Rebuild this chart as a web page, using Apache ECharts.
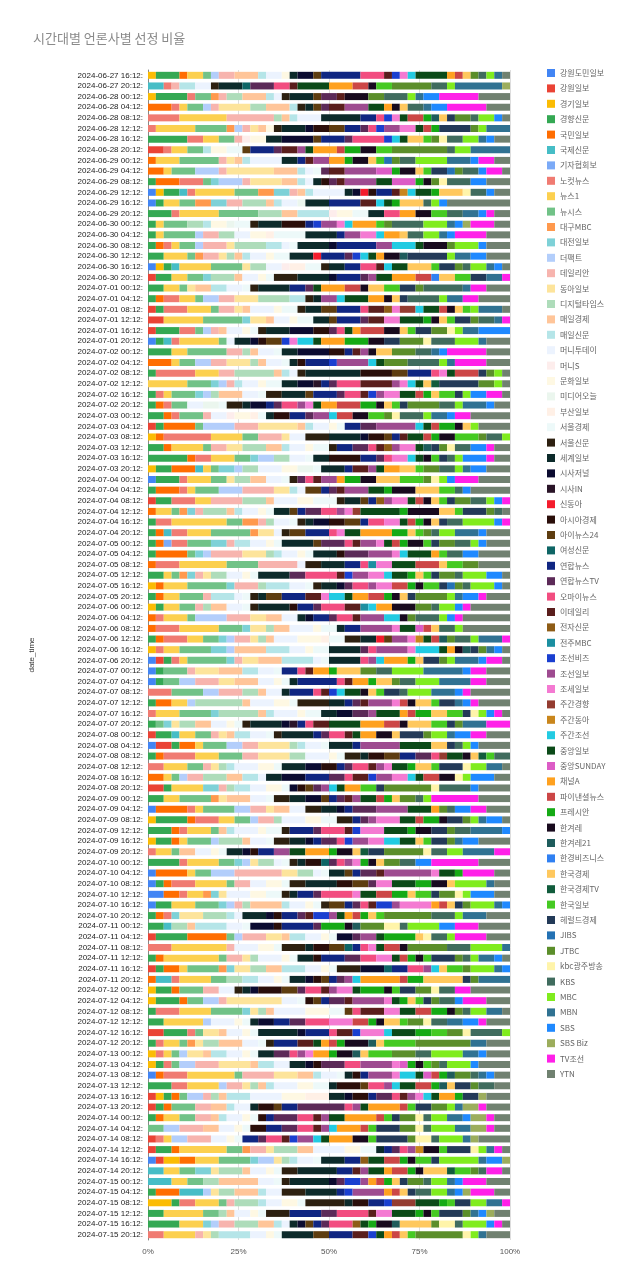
<!DOCTYPE html>
<html><head><meta charset="utf-8">
<script src="https://cdn.jsdelivr.net/npm/echarts@6/dist/echarts.min.js"></script>
<style>html,body{margin:0;padding:0;background:#fff}#c{width:640px;height:1287px}</style>
</head><body><div id="c"></div>
<script>
const outlets = ['강원도민일보','강원일보','경기일보','경향신문','국민일보','국제신문','기자협회보','노컷뉴스','뉴스1','뉴시스','대구MBC','대전일보','더팩트','데일리안','동아일보','디지털타임스','매일경제','매일신문','머니투데이','머니S','문화일보','미디어오늘','부산일보','서울경제','서울신문','세계일보','시사저널','시사IN','신동아','아시아경제','아이뉴스24','여성신문','연합뉴스','연합뉴스TV','오마이뉴스','이데일리','전자신문','전주MBC','조선비즈','조선일보','조세일보','주간경향','주간동아','주간조선','중앙일보','중앙SUNDAY','채널A','파이낸셜뉴스','프레시안','한겨레','한겨레21','한경비즈니스','한국경제','한국경제TV','한국일보','헤럴드경제','JIBS','JTBC','kbc광주방송','KBS','MBC','MBN','SBS','SBS Biz','TV조선','YTN'];
const colors = ['#4285F4','#EA4335','#FBBC04','#34A853','#FF6D01','#46BDC6','#7BAAF7','#F07B72','#FCD04F','#71C287','#FF994D','#7ED1D7','#B3CEFB','#F7B4AE','#FDE49B','#AEDCBA','#FFC599','#B5E5E8','#ECF3FE','#FDEDEC','#FEF8E3','#EBF6EE','#FFF0E6','#EDF9F9','#2D2010','#0C2A2A','#0B0B30','#2A1428','#F41C2C','#2A0E0A','#5E3D10','#0E6565','#102682','#5C2A58','#F24D80','#5A1E1C','#8E5C16','#1B8FA0','#1A3FD0','#9E4B90','#F47AD2','#943C30','#C9861C','#22CBE2','#0B4A18','#DC5CC6','#FFA11F','#CC4646','#15AA15','#180A1E','#1E5C5C','#3080F2','#FFC85E','#115C3C','#45CA22','#233A58','#2472B4','#5B8E2A','#FFF4AA','#406C5E','#80EC1E','#307292','#1F89FF','#9CAD5C','#FF20E8','#708170'];
const categories = [
'2024-06-27 16:12','2024-06-27 20:12',
'2024-06-28 00:12','2024-06-28 04:12','2024-06-28 08:12','2024-06-28 12:12','2024-06-28 16:12','2024-06-28 20:12',
'2024-06-29 00:12','2024-06-29 04:12','2024-06-29 08:12','2024-06-29 12:12','2024-06-29 16:12','2024-06-29 20:12',
'2024-06-30 00:12','2024-06-30 04:12','2024-06-30 08:12','2024-06-30 12:12','2024-06-30 16:12','2024-06-30 20:12',
'2024-07-01 00:12','2024-07-01 04:12','2024-07-01 08:12','2024-07-01 12:12','2024-07-01 16:12','2024-07-01 20:12',
'2024-07-02 00:12','2024-07-02 04:12','2024-07-02 08:12','2024-07-02 12:12','2024-07-02 16:12','2024-07-02 20:12',
'2024-07-03 00:12','2024-07-03 04:12','2024-07-03 08:12','2024-07-03 12:12','2024-07-03 16:12','2024-07-03 20:12',
'2024-07-04 00:12','2024-07-04 04:12','2024-07-04 08:12','2024-07-04 12:12','2024-07-04 16:12','2024-07-04 20:12',
'2024-07-05 00:12','2024-07-05 04:12','2024-07-05 08:12','2024-07-05 12:12','2024-07-05 16:12','2024-07-05 20:12',
'2024-07-06 00:12','2024-07-06 04:12','2024-07-06 08:12','2024-07-06 12:12','2024-07-06 16:12','2024-07-06 20:12',
'2024-07-07 00:12','2024-07-07 04:12','2024-07-07 08:12','2024-07-07 12:12','2024-07-07 16:12','2024-07-07 20:12',
'2024-07-08 00:12','2024-07-08 04:12','2024-07-08 08:12','2024-07-08 12:12','2024-07-08 16:12','2024-07-08 20:12',
'2024-07-09 00:12','2024-07-09 04:12','2024-07-09 08:12','2024-07-09 12:12','2024-07-09 16:12','2024-07-09 20:12',
'2024-07-10 00:12','2024-07-10 04:12','2024-07-10 08:12','2024-07-10 12:12','2024-07-10 16:12','2024-07-10 20:12',
'2024-07-11 00:12','2024-07-11 04:12','2024-07-11 08:12','2024-07-11 12:12','2024-07-11 16:12','2024-07-11 20:12',
'2024-07-12 00:12','2024-07-12 04:12','2024-07-12 08:12','2024-07-12 12:12','2024-07-12 16:12','2024-07-12 20:12',
'2024-07-13 00:12','2024-07-13 04:12','2024-07-13 08:12','2024-07-13 12:12','2024-07-13 16:12','2024-07-13 20:12',
'2024-07-14 00:12','2024-07-14 04:12','2024-07-14 08:12','2024-07-14 12:12','2024-07-14 16:12','2024-07-14 20:12',
'2024-07-15 00:12','2024-07-15 04:12','2024-07-15 08:12','2024-07-15 12:12','2024-07-15 16:12','2024-07-15 20:12'];
const xTicks = [0, 25, 50, 75, 100];
// number of picks per outlet (key = 1-based position in outlets) for each time slot
const counts = [
{3:1,4:3,5:1,9:2,10:1,13:1,14:2,17:3,18:1,19:2,21:1,26:1,27:2,31:1,33:5,35:3,36:1,39:1,41:1,44:1,45:4,47:1,48:1,53:1,58:1,60:1,61:1,62:1,66:1},
{6:2,8:1,14:1,18:2,19:2,25:1,26:3,32:1,34:3,35:2,36:1,45:4,47:3,48:2,50:1,55:2,58:5,60:2,61:1,62:6,64:1},
{3:1,4:4,8:1,10:2,11:1,14:1,16:2,17:3,18:1,19:1,25:1,26:3,31:1,34:2,36:1,50:3,58:2,60:3,61:1,62:1,63:2,65:5,66:4},
{5:3,8:1,9:1,10:2,13:1,14:1,15:4,16:2,17:3,18:1,25:1,26:1,31:1,34:1,36:2,40:3,45:2,47:1,50:1,53:1,60:2,62:1,63:2,65:5,66:3},
{8:4,9:6,14:6,16:1,17:1,18:1,19:3,26:5,33:2,35:1,39:1,41:1,45:1,48:2,49:1,51:1,53:1,56:1,58:2,60:1,61:2,63:1,66:1},
{8:1,9:5,10:4,11:1,13:1,14:1,15:1,17:1,21:1,25:1,26:3,27:1,30:2,31:2,33:2,34:1,35:1,39:1,40:2,41:2,45:1,48:1,49:1,56:4,58:1,61:1,62:3},
{4:5,8:2,9:2,10:2,14:1,20:1,21:2,26:2,27:4,31:1,33:3,34:1,35:4,39:1,44:1,45:1,53:2,55:1,58:1,59:1,60:2,61:2,62:1,63:1,66:2},
{2:2,8:1,9:2,10:2,18:1,21:2,24:2,31:1,33:3,34:1,36:2,40:1,45:1,47:3,48:1,49:2,50:2,55:2,58:7,60:1,61:2,62:5},
{5:1,9:3,10:5,14:1,15:1,17:1,18:1,19:4,26:2,33:1,36:1,40:2,47:2,49:1,50:2,53:1,55:1,57:1,58:1,60:2,61:4,62:3,63:1,65:2,66:2},
{5:2,9:1,10:3,13:3,14:1,15:6,17:3,18:1,19:1,24:1,34:1,36:2,40:4,46:2,49:1,50:2,53:1,55:1,56:2,57:1,58:1,60:2,63:1,65:2,66:1},
{4:1,5:3,8:3,10:1,12:1,13:3,14:1,15:4,17:2,18:1,19:1,26:1,30:1,34:1,36:1,40:4,45:2,46:3,49:1,50:1,58:1,59:1,60:3,63:2,66:3},
{1:1,3:1,4:2,6:1,8:1,9:5,10:3,11:2,12:2,14:1,17:1,18:1,19:4,26:1,27:1,29:1,30:1,33:2,36:1,43:1,44:1,45:2,49:1,53:3,59:1,60:2,63:1,66:2},
{1:1,4:1,9:2,10:2,11:2,12:2,14:2,16:3,17:1,18:1,19:2,22:1,26:3,33:4,36:2,44:1,45:1,49:1,53:3,60:1,61:1,63:1,66:8},
{4:3,8:1,9:5,10:5,16:3,17:2,18:4,20:1,21:2,24:2,26:2,35:2,47:2,50:2,55:2,60:2,62:2,63:1,65:1,66:2},
{4:1,9:1,10:3,16:2,18:1,21:2,22:1,24:2,25:1,26:3,30:3,33:1,39:1,40:2,41:1,44:1,47:3,55:1,58:1,60:4,61:3,62:1,63:1,64:1,65:3,66:2},
{4:1,9:1,10:4,13:1,14:2,16:2,19:2,21:2,23:1,24:4,26:4,33:1,40:2,41:2,44:1,47:2,53:1,60:2,61:2,62:1,63:1,65:4,66:3},
{4:1,5:1,8:1,9:1,10:2,13:1,14:3,15:1,16:4,18:2,19:1,24:1,26:4,27:1,33:5,40:2,44:3,45:1,50:3,58:1,61:3,63:1,66:3},
{4:2,9:3,10:1,11:1,14:2,15:1,16:1,17:1,18:1,19:2,21:1,24:2,26:3,29:1,33:3,34:1,39:1,44:1,45:1,47:1,50:2,51:1,56:5,61:1,62:2,63:2,66:3},
{1:1,3:1,4:1,6:1,9:4,10:4,15:1,16:2,19:2,20:1,23:2,24:2,25:1,26:2,33:2,35:2,36:1,44:1,45:2,53:3,55:1,56:2,58:1,60:1,61:2,62:1,63:1,66:1},
{2:1,4:2,9:2,10:2,12:1,16:3,17:1,19:2,21:1,24:1,25:3,26:4,27:1,33:3,34:1,40:1,45:2,47:3,48:2,52:1,53:2,55:2,56:2,62:2,65:1},
{4:2,9:2,10:1,15:1,17:2,18:2,19:2,24:1,25:1,26:4,33:2,34:1,45:1,47:3,48:2,50:1,53:2,55:2,56:2,58:1,60:5,62:1,65:2,66:3},
{4:1,5:1,8:2,9:2,10:1,13:2,14:2,15:3,16:4,18:2,25:1,26:1,40:2,44:1,45:3,47:2,50:1,53:1,56:1,60:4,61:1,62:2,65:2,66:4},
{2:1,4:1,8:3,9:3,10:1,14:2,15:1,17:1,19:3,21:1,24:2,25:1,26:2,31:2,33:3,35:1,36:2,37:1,41:1,42:2,44:1,45:2,48:1,50:1,53:1,55:1,61:1,62:3,66:1},
{2:2,9:5,10:5,12:1,15:2,17:1,19:2,21:1,24:2,26:2,31:1,33:3,34:1,36:2,41:2,45:3,49:1,50:1,53:1,55:1,56:2,58:1,60:2,62:1,65:1},
{2:1,4:3,8:2,10:1,13:1,14:1,17:1,19:2,21:1,24:1,25:1,26:3,27:3,30:2,34:1,35:1,45:1,47:1,48:3,50:2,53:1,55:1,56:2,58:2,59:1,61:1,62:2,63:4},
{1:1,4:1,6:1,8:1,9:5,10:1,19:1,26:2,27:1,30:1,31:2,39:1,41:1,44:2,45:1,47:3,49:3,50:2,56:2,58:3,59:1,60:3,61:3,62:1,66:3},
{4:3,9:2,10:5,14:2,16:1,17:1,19:2,24:1,26:2,27:4,30:2,33:1,36:1,40:1,50:1,53:2,58:3,60:2,62:1,63:1,65:5,66:3},
{5:3,9:1,10:2,13:2,14:2,15:3,16:1,17:1,19:2,24:1,26:1,30:1,33:3,39:1,40:4,44:1,45:1,58:3,60:4,61:1,62:1,65:4,66:3},
{4:1,8:5,9:3,14:2,16:5,17:1,18:1,19:1,25:1,26:7,30:4,31:2,33:3,35:1,41:1,45:1,48:3,56:1,58:1,61:1,66:1},
{9:5,10:3,12:1,13:1,14:1,18:1,19:2,21:1,24:2,26:2,27:2,28:1,33:1,34:1,35:3,36:4,40:1,41:1,44:1,45:1,53:1,54:1,56:5,58:2,61:1,66:1},
{4:1,8:1,9:1,10:3,12:1,13:1,16:1,17:3,19:2,24:1,25:2,26:3,31:1,33:3,34:1,35:2,36:1,39:1,40:1,41:2,45:2,48:1,49:1,53:1,55:2,56:1,61:1,63:2,65:2,66:1},
{4:1,5:1,8:1,10:2,19:2,22:2,24:1,25:2,26:1,27:2,33:1,34:1,35:2,40:1,41:1,45:1,47:2,48:3,49:2,50:1,53:1,55:1,56:1,58:4,60:2,61:1,62:3,63:1,66:2},
{4:2,5:1,8:1,10:3,14:1,19:2,20:1,21:2,23:1,24:1,26:1,30:2,33:2,34:1,40:2,44:1,48:2,50:2,55:2,58:1,59:1,60:3,61:1,62:2,63:1,65:2,66:5},
{2:1,4:1,5:4,10:1,13:4,14:3,15:5,17:1,18:1,19:2,21:1,24:1,33:2,34:2,40:5,44:1,45:1,48:1,49:2,50:1,53:1,61:1,66:4},
{3:1,5:1,8:6,9:4,10:2,14:3,15:1,19:2,25:3,26:4,27:1,30:2,31:1,33:1,36:1,45:2,48:1,49:1,50:2,55:3,58:1,60:2,61:1},
{4:2,5:1,9:4,10:1,14:2,15:2,16:3,17:2,18:1,19:2,21:1,24:2,25:1,33:2,34:2,35:1,36:1,37:1,40:1,41:2,45:1,51:1,56:1,58:1,59:1,60:2,63:2,65:1,66:2},
{4:5,5:1,8:2,9:3,10:2,12:1,13:2,16:2,19:2,24:1,26:2,30:4,33:2,34:1,35:1,41:2,44:1,45:1,50:1,55:1,56:1,60:1,61:1,63:3,65:1,66:2},
{3:1,4:2,5:3,6:1,9:1,10:1,12:2,13:1,16:2,19:3,21:2,22:2,24:1,26:3,33:1,36:2,40:1,45:1,47:2,53:2,55:1,58:2,60:2,61:1,62:1,63:2,66:3},
{1:1,4:3,8:1,9:3,10:2,15:1,16:2,17:2,19:2,24:1,25:1,34:1,35:1,36:1,40:2,47:1,49:2,50:2,53:3,55:3,58:1,59:1,61:1,63:1,65:3,66:4},
{4:1,5:3,8:1,9:1,10:3,13:3,14:4,15:2,18:1,19:1,31:2,33:1,34:1,36:1,40:3,45:2,49:1,50:3,53:3,55:2,60:1,63:1,66:5},
{2:1,4:2,8:3,9:2,14:4,16:3,17:1,19:3,21:2,24:3,25:1,26:2,31:1,33:1,37:1,40:1,41:2,45:1,48:1,50:1,53:1,55:1,56:1,58:2,60:2,61:1,63:1,65:1},
{5:1,9:2,10:1,11:1,12:1,14:1,16:3,17:1,18:1,19:2,21:1,24:1,26:2,31:1,33:1,34:2,35:2,40:1,41:1,42:1,45:5,49:1,50:4,53:2,55:1,56:3,58:1,60:1,66:1},
{4:1,8:2,9:7,10:2,11:2,14:1,16:1,19:2,24:1,25:1,26:1,27:2,30:2,31:2,33:1,35:2,41:2,45:1,48:1,49:1,50:1,53:1,56:1,60:2,61:4,63:1,65:1},
{4:1,5:1,6:1,8:2,9:3,10:5,11:1,15:2,19:1,25:1,31:2,33:3,35:1,41:1,45:2,47:4,49:2,53:1,55:1,58:1,60:1,61:2,62:3,63:1,66:3},
{4:1,5:1,7:1,8:2,10:3,12:2,14:1,18:2,19:2,21:1,24:1,26:4,31:1,34:3,35:1,36:1,40:2,41:1,45:1,48:1,49:1,50:2,55:1,56:1,58:2,60:2,61:1,63:1,66:3},
{4:1,5:4,10:1,12:1,13:1,14:4,15:3,16:1,18:1,19:2,21:1,24:1,26:3,30:1,34:3,40:3,41:1,44:1,45:3,47:1,55:1,60:2,63:2,66:4},
{5:1,8:3,9:6,10:4,14:5,19:1,25:2,26:3,33:2,35:1,38:1,41:2,45:3,48:3,53:1,55:2,58:2,66:4},
{4:2,9:1,10:1,11:1,12:1,14:1,15:1,16:2,19:2,21:1,24:1,26:4,34:2,35:4,36:1,39:1,40:2,41:2,44:1,45:2,49:1,53:1,55:1,56:1,58:2,60:1,61:3,63:2,66:1},
{3:1,5:1,9:3,10:5,12:1,14:3,16:1,18:3,19:2,24:1,25:1,26:2,27:1,34:1,35:2,40:1,41:2,48:2,49:1,50:1,55:2,56:1,57:1,58:1,60:1,61:3,63:1,66:1},
{4:1,5:1,9:2,10:3,14:1,18:3,19:1,24:1,25:1,26:1,31:2,33:3,36:2,41:1,44:2,45:1,47:2,48:2,49:1,50:1,53:1,56:1,58:4,61:1,62:1,63:2,65:1,66:3},
{3:1,4:1,9:2,10:2,14:1,16:1,17:2,19:2,24:1,25:1,26:4,30:1,33:2,34:1,35:3,36:2,38:1,44:1,47:2,50:3,58:2,60:1,61:2,63:1,65:1,66:5},
{5:1,8:1,9:3,10:1,13:4,14:3,15:2,17:2,19:2,26:1,27:1,33:2,34:1,35:2,36:1,40:3,44:2,50:1,58:1,60:3,61:1,63:1,65:1,66:6},
{5:1,8:3,9:5,10:3,12:1,15:2,16:1,17:2,19:3,21:1,24:2,26:1,33:2,40:4,41:1,45:2,46:1,48:1,53:1,60:2,61:1,66:6},
{4:1,5:1,8:3,9:2,10:2,12:1,13:1,14:2,15:1,16:1,17:1,19:3,21:3,23:1,24:2,25:2,26:2,29:1,31:1,40:2,41:1,43:1,45:1,48:1,51:1,58:1,60:2,61:1,62:3,65:1},
{3:1,8:1,9:2,10:4,12:2,13:1,17:4,18:3,19:2,21:1,24:2,26:4,34:1,35:1,40:4,41:1,44:3,45:1,47:1,50:1,51:1,56:1,58:1,62:1,63:1,66:1},
{1:1,2:1,4:1,8:1,9:1,10:5,12:1,14:1,15:2,17:3,18:4,19:1,24:1,26:4,35:1,40:1,44:1,47:3,49:1,53:1,56:2,58:1,61:1,62:3,63:1,65:2,66:1},
{1:1,4:1,10:3,14:1,15:3,17:3,18:2,19:2,24:1,33:2,35:1,36:1,47:2,49:1,53:3,58:2,60:2,61:4,62:5,63:1,65:2,66:3},
{1:1,4:1,10:2,13:2,14:3,15:2,17:3,19:2,21:1,24:1,26:1,33:5,35:1,36:1,47:2,49:1,53:2,58:1,60:2,61:3,62:4,65:2,66:3},
{8:3,10:4,13:2,14:3,16:2,17:1,19:2,26:1,33:3,35:1,36:1,39:1,44:1,45:2,50:1,53:1,55:1,56:2,60:1,61:3,62:3,63:1,65:1,66:5},
{4:1,5:2,9:2,13:1,16:6,17:1,19:3,21:2,24:1,25:4,26:2,33:1,34:1,36:1,40:3,41:1,48:1,50:1,53:2,55:1,56:2,62:1,63:1,65:1,66:4},
{8:1,9:3,10:4,12:1,16:5,17:1,18:1,19:3,21:1,24:2,26:2,27:2,34:2,40:1,45:3,47:1,48:1,49:2,53:2,55:2,56:1,59:1,61:1,63:1,65:1,66:1},
{4:1,10:1,12:1,15:1,16:2,17:2,19:2,21:1,24:1,25:1,26:4,27:1,28:1,33:1,35:1,36:2,45:4,47:3,48:2,50:1,53:3,55:2,56:1,58:1,62:3,65:3},
{2:1,4:2,6:1,9:2,10:2,14:1,15:1,17:1,18:2,19:2,24:1,25:1,26:4,33:1,34:1,35:2,36:1,45:1,47:2,50:2,53:1,56:3,58:1,61:2,62:1,63:2,65:2,66:3},
{1:1,2:2,4:1,5:2,9:1,10:3,13:2,14:2,15:4,16:1,18:1,19:2,24:1,26:3,33:1,40:5,45:4,53:2,56:1,60:1,61:1,63:1,66:4},
{4:1,5:1,8:4,9:3,10:3,14:2,15:4,16:2,19:3,21:1,24:1,25:2,26:1,30:2,31:2,33:2,34:2,35:1,42:1,45:2,50:1,53:1,54:1,55:1,60:2},
{8:2,9:3,10:2,14:1,15:1,16:1,18:1,19:3,21:2,24:1,26:3,27:2,30:2,33:1,34:1,35:2,36:1,40:1,41:1,45:2,49:1,53:2,55:1,56:3,59:1,61:2,62:2,66:1},
{5:2,9:1,10:1,13:1,14:2,16:3,17:2,18:2,19:1,26:2,27:3,33:3,34:2,35:1,36:2,39:1,40:2,41:2,44:1,45:1,48:2,50:2,59:1,61:1,63:3,66:2},
{2:2,4:1,9:4,12:2,14:1,16:1,18:2,19:2,21:2,24:1,27:1,30:1,31:1,34:1,40:1,44:1,45:1,47:2,55:2,56:1,58:6,59:1,60:4,63:1,66:4},
{4:2,9:2,10:4,11:1,15:1,17:3,19:2,24:1,25:2,26:2,27:2,31:1,33:1,34:1,36:1,40:1,45:2,48:1,49:1,53:1,58:2,60:1,61:1,65:6,66:4},
{1:1,5:4,8:1,9:1,10:4,13:2,14:2,15:1,17:2,19:2,25:2,26:2,27:1,33:1,34:3,40:4,45:3,47:1,58:1,60:1,63:2,65:2,66:3},
{3:1,4:4,5:1,8:3,9:2,10:2,13:1,14:2,16:1,19:3,21:2,24:2,25:2,33:1,34:1,40:1,41:3,45:2,48:1,49:2,50:1,56:2,58:1,61:1,62:1,63:2,66:1},
{4:3,5:1,8:1,9:3,10:1,17:1,18:1,19:3,21:1,24:2,25:1,33:3,34:1,35:3,36:1,39:1,41:3,45:3,49:1,50:2,56:2,58:1,60:2,62:4,63:1},
{3:1,4:2,5:1,9:1,10:3,13:1,16:3,17:1,19:2,24:1,25:2,26:2,27:1,33:1,34:2,35:1,39:1,40:2,41:2,44:2,45:2,53:1,55:1,56:2,58:1,62:1,63:2,66:4},
{8:1,9:2,10:1,17:2,19:2,21:1,24:1,26:2,27:1,30:1,33:2,40:2,45:2,47:3,49:1,50:2,53:1,54:1,56:2,58:5,59:1,60:2,61:2,62:4,65:2},
{4:4,8:1,9:4,10:2,12:1,13:1,15:1,16:2,19:1,24:1,25:1,26:1,30:2,32:1,34:1,35:1,40:1,41:1,49:1,50:1,53:1,58:2,60:2,63:2,65:6,66:4},
{1:1,5:4,9:1,10:2,13:3,14:6,15:2,16:2,19:1,24:1,26:2,31:1,33:1,34:2,36:1,40:6,41:1,45:2,49:1,65:4,66:2},
{1:1,4:1,5:1,8:3,9:4,10:1,14:2,19:2,21:2,24:1,25:2,26:4,30:2,31:2,34:1,41:2,45:3,49:2,50:2,53:1,61:4,62:1,66:2},
{1:2,5:2,8:1,9:2,11:1,12:1,15:1,19:3,21:2,24:2,25:1,26:1,33:2,34:1,35:4,41:1,45:2,48:2,49:2,53:1,55:2,56:1,58:2,59:1,61:1,63:3,66:2},
{1:1,4:2,9:3,10:3,12:1,13:1,14:1,16:1,17:4,18:1,19:2,21:1,24:1,25:1,31:2,33:1,34:1,35:1,36:1,39:2,40:1,41:4,47:1,48:1,53:1,56:1,58:1,61:3,62:1,63:1},
{4:1,5:1,8:1,12:1,15:3,16:3,18:1,19:1,26:3,27:1,30:1,33:2,34:1,36:1,39:2,40:1,45:1,47:1,48:1,49:1,53:1,55:1,58:6,60:3,61:1,62:3,66:3},
{4:2,6:1,16:2,17:1,18:4,19:2,24:1,27:3,30:1,33:4,34:1,49:3,50:1,51:1,58:3,59:2,60:1,61:4,63:2,65:3,66:4},
{2:1,4:4,5:5,10:1,13:1,14:3,15:2,17:1,18:2,19:2,21:1,24:1,27:2,34:1,40:2,45:1,49:4,53:1,59:1,60:2,61:1,65:4,66:3},
{8:3,9:7,14:1,19:3,21:2,24:1,25:3,26:1,30:2,31:2,32:1,33:1,35:1,41:1,45:1,48:2,50:1,58:5,60:3,61:4,62:1},
{4:1,5:1,9:7,10:1,14:2,15:1,16:1,19:3,21:1,24:1,26:2,30:1,33:3,34:2,35:2,41:2,45:1,48:1,49:1,50:1,55:1,56:3,58:1,60:1,61:1,62:2,63:1,66:1},
{2:1,4:1,5:2,9:1,10:4,11:1,12:1,15:2,16:2,17:2,18:3,19:2,21:1,24:1,25:3,27:3,32:1,33:2,35:2,40:1,44:1,53:1,55:2,58:1,61:3,62:1,63:1},
{5:1,6:2,8:1,9:4,10:2,16:2,18:2,19:2,21:1,24:1,26:2,27:1,30:1,31:1,33:1,34:1,40:1,44:1,47:5,48:1,49:2,53:5,56:1,58:1,62:4},
{3:1,4:2,5:1,10:3,14:2,19:2,25:1,26:1,27:1,30:3,31:2,34:1,35:2,36:1,40:1,41:2,45:1,49:3,50:1,55:1,56:2,58:2,59:1,60:2,65:2,66:5},
{3:1,4:3,5:1,10:2,13:2,14:1,15:7,19:2,24:1,30:1,31:1,33:1,34:2,36:1,40:4,41:1,45:1,49:1,53:1,55:1,56:1,58:1,60:2,63:1,65:3,66:3},
{4:1,8:3,9:4,10:4,12:1,15:1,16:1,17:1,19:4,21:3,24:2,31:1,35:1,36:3,41:2,45:2,48:2,49:2,50:1,58:1,60:1,61:2,62:2,66:1},
{4:2,9:5,13:1,19:3,21:1,24:1,26:1,27:2,33:2,34:2,35:3,41:3,48:2,49:1,50:1,53:2,55:1,58:2,59:1,60:2,62:2,63:2,65:1,66:3},
{2:2,4:3,8:1,10:1,15:2,17:1,19:2,21:1,24:1,26:5,27:1,33:3,35:1,36:2,39:1,41:3,44:1,45:3,49:2,55:2,58:2,59:1,60:4,61:1},
{4:1,8:1,9:2,10:1,11:1,15:1,16:2,17:3,19:2,24:1,25:1,33:3,36:2,45:1,47:1,48:1,49:1,50:3,51:1,53:1,55:4,58:7,62:2,66:3},
{3:1,8:1,9:1,10:1,13:1,15:2,17:1,18:2,19:2,21:1,24:1,26:2,34:2,35:1,40:1,41:1,47:2,49:1,50:2,51:1,53:1,55:3,58:3,60:2,61:4,62:2,63:1,66:3},
{3:1,4:1,8:1,10:1,13:2,14:3,15:4,17:1,18:2,19:2,26:2,27:1,30:1,34:3,35:2,40:4,41:1,46:1,49:1,50:1,55:1,58:1,60:1,61:3,63:1,66:4},
{1:1,5:1,8:3,9:6,10:1,14:4,15:3,17:2,18:1,19:2,24:1,26:1,30:1,33:1,40:3,41:1,44:2,45:1,46:1,48:1,49:1,51:1,58:2,60:1,62:1,63:1,66:2},
{4:3,8:2,9:4,13:1,14:2,15:1,16:1,17:1,18:1,19:3,21:2,24:2,26:1,30:3,31:1,35:2,40:1,44:1,45:2,48:2,49:1,51:1,53:1,56:2,58:1,60:2,66:2},
{2:1,3:1,4:1,5:1,10:1,13:2,14:1,16:1,17:1,18:3,19:4,21:3,23:3,26:2,27:1,30:2,33:1,34:2,35:1,36:1,40:1,41:1,44:1,45:1,47:2,49:1,56:2,64:1,66:3},
{2:1,4:1,5:1,10:3,14:2,17:2,18:1,19:2,26:1,30:2,31:1,33:2,34:6,35:1,40:1,45:1,47:4,48:1,55:1,56:2,58:2,61:1,62:1,64:2,65:1,66:3},
{4:1,5:1,9:2,10:2,14:2,17:1,18:1,19:2,21:1,24:1,30:1,33:1,34:3,35:2,36:1,40:1,45:2,47:4,48:1,55:1,56:1,58:2,59:1,60:1,61:2,62:2,63:1,64:2,65:1,66:2},
{10:2,13:2,14:3,17:2,19:2,21:1,24:1,30:2,33:2,34:2,35:2,36:1,40:1,44:1,47:3,48:1,55:1,56:3,58:2,59:1,60:1,61:3,62:2,64:2,65:1,66:2},
{2:1,8:1,9:1,13:2,14:3,19:2,21:1,24:1,33:2,34:1,35:2,36:1,39:1,40:2,44:1,45:1,47:3,50:2,55:1,56:4,58:1,59:2,60:1,61:3,62:1,64:1,66:4},
{2:1,4:2,5:1,9:6,10:2,11:1,14:2,15:1,16:3,17:2,19:4,21:2,24:2,26:1,33:1,34:1,35:1,40:1,43:1,50:2,55:1,56:3,59:1,61:1,62:1,65:1,66:1},
{1:1,2:1,3:2,5:2,9:3,10:4,12:1,13:2,15:1,16:1,18:1,19:2,24:1,26:3,33:2,37:1,45:2,48:2,49:1,50:1,55:2,56:1,61:5,62:1,63:2,64:1},
{6:2,9:2,10:2,12:2,15:1,16:3,17:1,19:2,21:1,24:1,25:2,26:5,33:2,36:1,40:1,45:2,47:1,48:2,49:1,50:1,53:3,54:1,55:2,58:1,60:1,65:2,66:1},
{6:3,9:2,10:2,16:2,17:5,19:2,24:1,25:1,26:5,27:1,34:1,39:2,40:1,47:1,48:1,49:1,53:1,56:1,58:2,60:1,61:2,62:1,63:1,65:3,66:3},
{4:1,5:3,6:3,13:1,15:1,16:2,17:3,18:1,19:2,25:3,26:4,33:1,39:1,40:4,47:1,48:1,53:1,56:1,60:2,61:2,62:1,63:1,64:1,65:3,66:2},
{3:3,4:1,8:2,9:3,10:1,14:1,16:3,18:1,19:2,21:2,24:1,25:5,26:1,30:2,33:2,39:1,42:3,45:3,49:1,55:1,56:2,61:2,62:2,65:1},
{4:2,9:5,10:2,16:1,17:1,19:2,21:1,24:1,25:3,33:4,34:2,35:4,36:1,41:2,45:3,49:1,50:1,55:1,56:3,58:1,62:1,63:1,64:1,66:2},
{4:4,9:3,12:1,13:1,14:2,16:3,17:2,18:1,19:1,26:1,27:1,31:1,33:1,34:1,35:3,37:1,45:1,49:1,50:2,51:1,53:4,58:1,59:2,60:1,61:3,63:1,65:1,66:1},
{8:2,9:4,14:1,15:1,16:1,18:4,19:2,21:1,24:1,26:4,31:2,33:3,36:2,39:1,45:1,47:1,48:1,53:1,55:1,58:6,59:1,61:1,62:1,66:3}
];

const totals = counts.map(r => Object.values(r).reduce((a, b) => a + b, 0));
const series = outlets.map((name, i) => ({
  name: name,
  type: 'bar',
  stack: 'share',
  barWidth: 7,
  itemStyle: { color: colors[i] },
  emphasis: { disabled: true },
  data: counts.map((r, k) => (r[i + 1] || 0) * 100 / totals[k])
}));

const chart = echarts.init(document.getElementById('c'), null, { renderer: 'canvas' });
chart.setOption({
  animation: false,
  backgroundColor: '#ffffff',
  title: {
    text: '시간대별 언론사별 선정 비율',
    left: 28, top: 27,
    textStyle: { fontSize: 13, fontWeight: 'normal', color: '#8a8a8a', fontFamily: 'Noto Sans CJK KR' }
  },
  legend: {
    orient: 'vertical',
    left: 542, top: 63,
    icon: 'rect',
    itemWidth: 8, itemHeight: 8,
    itemGap: 5.4,
    selectedMode: false,
    data: outlets,
    textStyle: { fontSize: 8, lineHeight: 10, color: '#666', fontFamily: 'Noto Sans CJK KR' }
  },
  grid: { left: 148, right: 130, top: 70, bottom: 47 },
  xAxis: {
    type: 'value', min: xTicks[0], max: xTicks[xTicks.length - 1], interval: 25,
    axisLine: { show: false }, axisTick: { show: false },
    axisLabel: { formatter: '{value}%', fontSize: 8, color: '#555', fontFamily: 'Liberation Sans', margin: 8 },
    splitLine: { show: true, lineStyle: { color: '#dddddd', width: 1 } }
  },
  yAxis: {
    type: 'category', inverse: true, data: categories,
    name: 'date_time', nameLocation: 'middle', nameGap: 112, nameRotate: 90,
    nameTextStyle: { fontSize: 8, color: '#333', fontFamily: 'Liberation Sans' },
    axisLine: { show: true, lineStyle: { color: '#888' } },
    axisTick: { show: false },
    axisLabel: { fontSize: 8, color: '#222', fontFamily: 'Liberation Sans', margin: 5, formatter: v => v + ':', interval: 0 }
  },
  series: series
});
</script>
</body></html>
